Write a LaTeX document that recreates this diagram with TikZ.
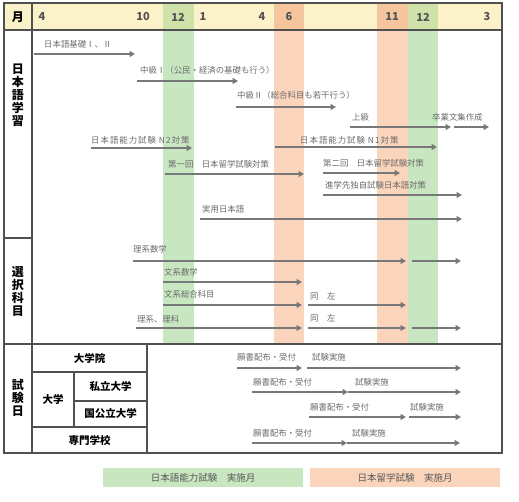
\documentclass[tikz,border=0pt]{standalone}
\usepackage{fontspec}
\setmainfont{Noto Sans CJK JP}
\usetikzlibrary{arrows.meta}

\definecolor{hdryellow}{HTML}{FBF2C9}
\definecolor{jlptgreen}{HTML}{C8E6C0}
\definecolor{ejuorange}{HTML}{FBD4BC}
\definecolor{hdrgreen}{HTML}{CFE2A9}
\definecolor{hdrorange}{HTML}{F5C69E}
\definecolor{plangray}{HTML}{787878}
\definecolor{textgray}{HTML}{6A6A6A}
\definecolor{rulegray}{HTML}{505050}

\begin{document}
\begin{tikzpicture}[
        x=1pt,
        y=-1pt,
        plan/.style={
            draw=plangray,
            line width=1.8pt,
            -{Triangle[length=5.5pt,width=6pt]}
        },
        rule/.style={
            draw=rulegray,
            line width=1.1pt
        },
        note/.style={
            anchor=west,
            inner sep=0pt,
            text=textgray,
            font=\fontsize{8.4}{9}\selectfont
        },
        month/.style={
            inner sep=0pt,
            text=black!68,
            font=\fontsize{11}{12}\selectfont\bfseries
        },
        heading/.style={
            inner sep=0pt,
            align=center,
            font=\fontsize{12}{13}\selectfont\bfseries
        },
        school/.style={
            inner sep=0pt,
            font=\fontsize{10.5}{12}\selectfont\bfseries
        },
        legend/.style={
            inner sep=0pt,
            minimum height=19,
            text=black!65,
            font=\fontsize{9.5}{10}\selectfont
        }
    ]

    \useasboundingbox (0,0) rectangle (519,502);

    % Header row and exam month bands
    \path[fill=hdryellow] (4,3) rectangle (502,30);
    \path[fill=jlptgreen] (163,30) rectangle (194,344);
    \path[fill=jlptgreen] (408,30) rectangle (438,344);
    \path[fill=ejuorange] (274,30) rectangle (304,344);
    \path[fill=ejuorange] (377,30) rectangle (408,344);
    \path[fill=hdrgreen] (163,3) rectangle (194,30);
    \path[fill=hdrgreen] (408,3) rectangle (438,30);
    \path[fill=hdrorange] (274,3) rectangle (304,30);
    \path[fill=hdrorange] (377,3) rectangle (408,30);

    % Table rules
    \draw[rule] (4,3) rectangle (502,453);
    \draw[rule] (4,30) -- (502,30);
    \draw[rule] (32,3) -- (32,453);
    \draw[rule] (4,238) -- (32,238);
    \draw[rule] (4,344) -- (502,344);
    \draw[rule] (147,344) -- (147,453);
    \draw[rule] (74,372) -- (74,427);
    \draw[rule] (32,372) -- (147,372);
    \draw[rule] (74,401) -- (147,401);
    \draw[rule] (32,427) -- (147,427);

    % Months
    \node[month, text=black, font=\fontsize{12}{12}\selectfont\bfseries] (mon) at (18,17) {月};
    \foreach \n/\x/\m in {m1/42/4, m2/143/10, m3/178/12, m4/203/1, m5/262/4,
                          m6/289/6, m7/392/11, m8/423/12, m9/487/3}
        \node[month] (\n) at (\x,17) {\m};

    % Section headings
    \node[heading] (jpn) at (18,95) {日\\本\\語\\学\\習};
    \node[heading] (opt) at (18,291) {選\\択\\科\\目};
    \node[heading] (exa) at (18,398) {試\\験\\日};

    \node[school] (grad) at (89.5,358) {大学院};
    \node[school] (univ) at (53,399.5) {大学};
    \node[school] (priv) at (110.5,386.5) {私立大学};
    \node[school] (publ) at (110.5,414) {国公立大学};
    \node[school] (voc) at (89.5,440) {専門学校};

    % Course arrows
    \foreach \n/\y/\a/\b in {
        k1/54/34/135, k2/81/137/238, k3/107/236/336, k4/127/350/451,
        k5/127/454/489, k6/148/91/192, k7/147/275/437, k8/174/165/304,
        k9/173/323/400, k10/195/323/462, k11/219/200/462,
        s1/261/133/406, s2/261/412/461, s3/282/163/302, s4/305/163/302,
        s5/305/308/406, s6/328/136/302, s7/328/308/406, s8/328/412/461,
        e1/368/237/302, e2/368/307/461, e3/392/252/348, e4/392/348/461,
        e5/417/309/406, e6/417/409/461, e7/443/252/347, e8/443/347/460}
    {
        \coordinate (\n-s) at (\a,\y);
        \coordinate (\n-e) at (\b,\y);
        \draw[plan] (\n-s) -- (\n-e);
    }

    % Course labels
    \foreach \n/\x/\y/\t in {
        t1/44/44/{日本語基礎Ⅰ、Ⅱ},
        t2/140/70/{中級Ⅰ（公民・経済の基礎も行う）},
        t3/237/95/{中級Ⅱ（総合科目も若干行う）},
        t4/352/117/{上級},
        t5/432/117/{卒業文集作成},
        t6/91/140/{\addfontfeature{LetterSpace=12}日本語能力試験 N2対策},
        t7/300/140/{\addfontfeature{LetterSpace=12}日本語能力試験 N1対策},
        t8/168/164/{第一回　日本留学試験対策},
        t9/323/163/{第二回　日本留学試験対策},
        t10/325/185/{進学先独自試験日本語対策},
        t11/202/209/{実用日本語},
        u1/133/249/{理系数学},
        u2/164/272/{文系数学},
        u3/164/294/{文系総合科目},
        u4/310/296/{同　左},
        u5/137/319/{理系、理科},
        u6/310/318/{同　左},
        x1/237/357/{願書配布・受付},
        x2/312/357/{試験実施},
        x3/253/382/{願書配布・受付},
        x4/355/382/{試験実施},
        x5/310/407/{願書配布・受付},
        x6/410/407/{試験実施},
        x7/253/433/{願書配布・受付},
        x8/352/433/{試験実施}}
        \node[note] (\n) at (\x,\y) {\t};

    % Legend
    \node[legend, fill=jlptgreen, minimum width=200] (lg1) at (203,477.5) {日本語能力試験　実施月};
    \node[legend, fill=ejuorange, minimum width=190] (lg2) at (405,477.5) {日本留学試験　実施月};

\end{tikzpicture}
\end{document}
